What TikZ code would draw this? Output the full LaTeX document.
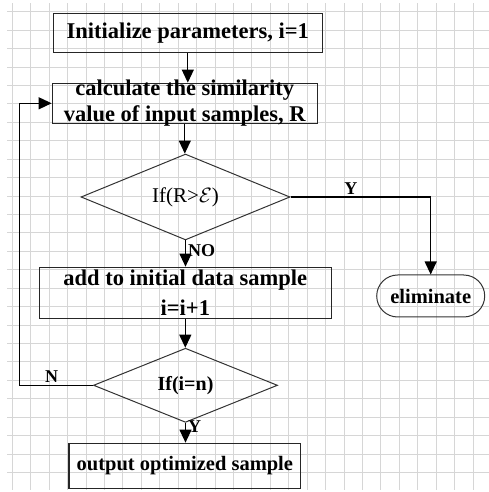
\documentclass[tikz,border=0pt]{standalone}
\usepackage{fontspec}
\setmainfont{Liberation Serif}
\usetikzlibrary{arrows.meta,shapes.geometric}

\begin{document}
\begin{tikzpicture}[
  x=1pt, y=1pt,
  gridline/.style={draw=black!16, line width=0.9pt},
  box/.style={draw=black!85, line width=1.3pt, inner sep=0pt, align=center, font=\bfseries\fontsize{22.5}{26}\selectfont},
  boxtext/.style={inner sep=0pt, align=center, font=\bfseries\fontsize{22.5}{26}\selectfont},
  test/.style={diamond, draw=black!80, line width=1pt, inner sep=0pt, align=center},
  terminal/.style={draw=black!80, line width=1pt, rounded corners=21pt, inner sep=0pt, font=\bfseries\fontsize{20.5}{24}\selectfont},
  flow/.style={-{Triangle[length=13pt,width=12pt]}, line width=1.2pt},
  lbl/.style={inner sep=2pt, font=\bfseries\fontsize{18}{20}\selectfont}
]
\useasboundingbox (0,0) rectangle (489,492);

% Background grid.
\foreach \k in {0,...,25}{
  \draw[gridline] ({12.3+18.43*\k},2) -- ({12.3+18.43*\k},489);
  \draw[gridline] (7,{480.3-18.43*\k}) -- (489,{480.3-18.43*\k});
}

% Steps and tests.
\node[box, minimum width=269pt, minimum height=39.4pt] (init) at (187.8,459) {Initialize parameters, i=1};
\node[box, minimum width=265pt, minimum height=40pt,
  label={[boxtext]center:{calculate the similarity\\value of input samples, R}}] (calc) at (184.8,388.7) {};
\node[test, minimum width=209pt, minimum height=73pt, font=\fontsize{21}{24}\selectfont] (test1) at (185.5,295) {If(R>$\mathcal{E}$)};
\node[terminal, minimum width=108pt, minimum height=42pt] (elim) at (430.7,196) {eliminate};
\node[box, minimum width=292pt, minimum height=51pt, font=\bfseries\fontsize{22.5}{30}\selectfont] (add) at (185.3,199.2)
  {add to initial data sample\\i=i+1};
\node[test, minimum width=184pt, minimum height=53.4pt, font=\bfseries\fontsize{20}{24}\selectfont] (test2) at (185.5,106.7) {If(i=n)};
\node[box, minimum width=231.7pt, minimum height=45pt, font=\bfseries\fontsize{20.5}{24}\selectfont] (out) at (184.85,26.2) {output optimized sample};
\coordinate (loop) at (19.3,106.7);

% Connectors.
\draw[flow] (init.south) -- (init.south |- calc.north);
\draw[flow] (calc.south) -- (calc.south |- test1.north);
\draw[flow] (test1.east) -- node[lbl, above, pos=0.43] {Y} (test1.east -| elim.north) -- (elim.north);
\draw[flow] (test1.south) -- node[lbl, right, pos=0.38] {NO} (test1.south |- add.north);
\draw[flow] (add.south) -- (add.south |- test2.north);
\draw[flow] (test2.west) -- node[lbl, above, pos=0.56] {N} (test2.west -| loop) |- (calc.west);
\draw[flow] (test2.south) -- node[lbl, right, pos=0.2] {Y} (test2.south |- out.north);

\end{tikzpicture}
\end{document}
